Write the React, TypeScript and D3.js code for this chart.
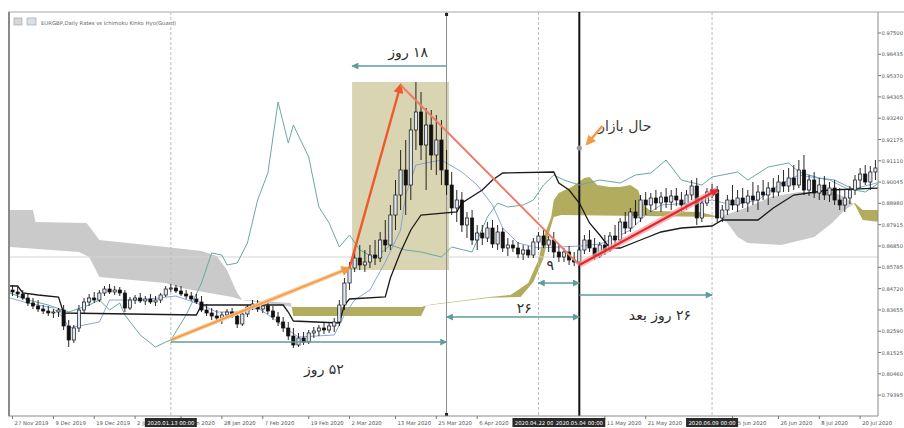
import React from "react";
import * as d3 from "d3";

type P = [number, number];

// EURGBP daily candles: [open, high, low, close]
const candles: [number, number, number, number][] = [
  [.8465,.8490,.8435,.8455],[.8455,.8480,.8425,.8445],[.8445,.8465,.8415,.8425],[.8425,.8450,.8385,.8400],
  [.8400,.8425,.8370,.8385],[.8385,.8415,.8355,.8370],[.8370,.8390,.8345,.8360],[.8360,.8385,.8335,.8350],
  [.8350,.8370,.8325,.8355],[.8355,.8375,.8330,.8365],[.8365,.8390,.8265,.8285],[.8285,.8315,.8180,.8215],
  [.8215,.8290,.8200,.8275],[.8275,.8390,.8255,.8365],[.8365,.8425,.8345,.8405],[.8405,.8445,.8385,.8425],
  [.8425,.8455,.8400,.8415],[.8415,.8465,.8405,.8450],[.8450,.8485,.8435,.8470],[.8470,.8495,.8445,.8455],
  [.8455,.8485,.8440,.8465],[.8465,.8480,.8435,.8450],[.8450,.8465,.8355,.8375],[.8375,.8430,.8365,.8415],
  [.8415,.8440,.8395,.8425],[.8425,.8450,.8400,.8410],[.8410,.8435,.8390,.8420],[.8420,.8445,.8395,.8405],
  [.8405,.8435,.8385,.8415],[.8415,.8450,.8400,.8440],[.8440,.8485,.8430,.8470],[.8470,.8495,.8455,.8475],
  [.8475,.8490,.8450,.8460],[.8460,.8485,.8435,.8445],[.8445,.8465,.8420,.8435],[.8435,.8455,.8410,.8420],
  [.8420,.8445,.8395,.8405],[.8405,.8435,.8355,.8365],[.8365,.8395,.8335,.8350],[.8350,.8375,.8315,.8335],
  [.8335,.8365,.8305,.8325],[.8325,.8355,.8295,.8340],[.8340,.8370,.8325,.8355],[.8355,.8375,.8325,.8335],
  [.8335,.8355,.8275,.8295],[.8295,.8355,.8285,.8345],[.8345,.8390,.8330,.8380],[.8380,.8415,.8365,.8395],
  [.8395,.8415,.8355,.8370],[.8370,.8400,.8350,.8385],[.8385,.8415,.8345,.8360],[.8360,.8385,.8315,.8330],
  [.8330,.8355,.8285,.8305],[.8305,.8330,.8255,.8275],[.8275,.8305,.8215,.8235],[.8235,.8275,.8175,.8190],
  [.8190,.8250,.8180,.8225],[.8225,.8255,.8190,.8205],[.8205,.8265,.8195,.8250],[.8250,.8280,.8225,.8260],
  [.8260,.8290,.8235,.8275],[.8275,.8305,.8245,.8265],[.8265,.8300,.8250,.8285],[.8285,.8325,.8255,.8305],
  [.8305,.8415,.8285,.8390],[.8390,.8525,.8365,.8500],[.8500,.8605,.8465,.8575],[.8575,.8665,.8555,.8625],
  [.8625,.8690,.8565,.8590],[.8590,.8665,.8555,.8605],[.8605,.8690,.8575,.8640],[.8640,.8715,.8590,.8625],
  [.8625,.8755,.8605,.8715],[.8715,.8815,.8655,.8690],[.8690,.8890,.8665,.8840],[.8840,.9015,.8765,.8940],
  [.8940,.9165,.8865,.9065],[.9065,.9215,.8840,.8990],[.8990,.9325,.8915,.9265],[.9265,.9505,.9165,.9355],
  [.9355,.9455,.9115,.9190],[.9190,.9375,.8965,.9290],[.9290,.9365,.9065,.9140],[.9140,.9340,.9040,.9215],
  [.9215,.9315,.8990,.9065],[.9065,.9165,.8940,.8990],[.8990,.9055,.8840,.8875],[.8875,.8965,.8805,.8915],
  [.8915,.8955,.8755,.8790],[.8790,.8855,.8725,.8825],[.8825,.8865,.8690,.8715],[.8715,.8790,.8665,.8750],
  [.8750,.8790,.8690,.8725],[.8725,.8805,.8705,.8775],[.8775,.8815,.8675,.8695],[.8695,.8790,.8665,.8755],
  [.8755,.8775,.8655,.8675],[.8675,.8725,.8635,.8690],[.8690,.8715,.8655,.8675],[.8675,.8705,.8625,.8645],
  [.8645,.8690,.8615,.8665],[.8665,.8685,.8625,.8640],[.8640,.8725,.8625,.8705],[.8705,.8755,.8665,.8735],
  [.8735,.8765,.8675,.8690],[.8690,.8735,.8655,.8715],[.8715,.8755,.8625,.8655],[.8655,.8695,.8605,.8630],
  [.8630,.8675,.8605,.8655],[.8655,.8685,.8590,.8615],[.8615,.8655,.8585,.8605],[.8605,.8675,.8595,.8665],
  [.8665,.8740,.8645,.8715],[.8715,.8765,.8655,.8675],[.8675,.8725,.8615,.8635],[.8635,.8705,.8625,.8690],
  [.8690,.8740,.8640,.8665],[.8665,.8755,.8655,.8735],[.8735,.8790,.8685,.8715],[.8715,.8825,.8695,.8805],
  [.8805,.8855,.8745,.8775],[.8775,.8875,.8755,.8855],[.8855,.8915,.8790,.8825],[.8825,.8940,.8805,.8915],
  [.8915,.8955,.8840,.8890],[.8890,.8950,.8855,.8925],[.8925,.8965,.8865,.8900],[.8900,.8955,.8855,.8930],
  [.8930,.8975,.8875,.8905],[.8905,.8965,.8865,.8935],[.8935,.8975,.8885,.8915],[.8915,.8955,.8855,.8890],
  [.8890,.8965,.8865,.8940],[.8940,.9015,.8915,.8985],[.8985,.9025,.8790,.8825],[.8825,.8925,.8805,.8900],
  [.8900,.8975,.8885,.8955],[.8955,.8995,.8925,.8965],[.8965,.8985,.8805,.8825],[.8825,.8890,.8805,.8865],
  [.8865,.8940,.8840,.8915],[.8915,.8990,.8865,.8890],[.8890,.8965,.8855,.8925],[.8925,.8975,.8875,.8900],
  [.8900,.8965,.8855,.8935],[.8935,.9005,.8890,.8915],[.8915,.8990,.8865,.8955],[.8955,.9015,.8915,.8940],
  [.8940,.9005,.8890,.8975],[.8975,.9025,.8925,.8955],[.8955,.9040,.8935,.9005],[.9005,.9065,.8955,.8985],
  [.8985,.9075,.8955,.9025],[.9025,.9090,.8965,.8990],[.8990,.9115,.8975,.9065],[.9065,.9140,.8940,.8965],
  [.8965,.9040,.8935,.9015],[.9015,.9055,.8925,.8950],[.8950,.9025,.8915,.8990],[.8990,.9035,.8915,.8940],
  [.8940,.9005,.8905,.8975],[.8975,.9015,.8890,.8915],[.8915,.8975,.8865,.8890],[.8890,.8965,.8855,.8925],
  [.8925,.8985,.8895,.8965],[.8965,.9040,.8940,.9015],[.9015,.9075,.8975,.9045],[.9045,.9090,.8990,.9005],
  [.9005,.9085,.8965,.9055],[.9055,.9115,.9015,.9075],
];

// Ichimoku lines: [bar index, price]
const kijun: P[] = [[-0.5,.8485],[1,.8485],[2,.8450],[5,.8440],[9,.8430],[10,.8350],[36,.8340],[37,.8390],[53,.8390],[54,.8355],[55,.8310],[64,.8300],[65,.8390],[66,.8420],[73,.8430],[74,.8525],[76,.8655],[78,.8765],[80,.8840],[87,.8855],[88,.8900],[92,.8965],[94,.9015],[96,.9050],[106,.9055],[107,.9000],[109,.8965],[111,.8900],[113,.8800],[115,.8740],[117,.8675],[119,.8675],[123,.8715],[127,.8755],[131,.8775],[137,.8785],[139,.8815],[146,.8815],[149,.8875],[153,.8940],[160,.8965],[170,.8975]];
const tenkan: P[] = [[-0.5,.8425],[3,.8400],[8,.8375],[10,.8325],[11,.8275],[17,.8305],[19,.8415],[25,.8415],[32,.8435],[37,.8390],[40,.8355],[45,.8355],[48,.8375],[51,.8325],[54,.8265],[56,.8230],[63,.8240],[65,.8340],[67,.8415],[70,.8465],[73,.8605],[76,.8765],[77,.8940],[79,.9090],[84,.9115],[88,.9055],[91,.8990],[94,.8890],[96,.8775],[99,.8700],[103,.8675],[107,.8680],[111,.8685],[115,.8695],[118,.8725],[121,.8765],[124,.8840],[127,.8890],[133,.8900],[137,.8915],[141,.8890],[146,.8915],[150,.8990],[154,.9040],[160,.9015],[164,.8965],[170,.9005]];
const chikou: P[] = [[-0.5,.8450],[3,.8415],[7,.8390],[11,.8355],[15,.8390],[17,.8415],[19,.8365],[21,.8400],[22,.8340],[25,.8240],[28,.8180],[30,.8205],[31,.8215],[34,.8340],[37,.8500],[39,.8650],[41,.8640],[42,.8590],[44,.8600],[46,.8700],[48,.8915],[50,.9050],[52,.9405],[54,.9200],[55,.9290],[58,.9130],[60,.8880],[62,.8800],[64,.8680],[66,.8740],[68,.8665],[71,.8625],[74,.8690],[77,.8665],[80,.8655],[84,.8630],[86,.8680],[90,.8655],[93,.8830],[95,.8900],[97,.8880],[100,.8890],[102,.8915],[104,.8990],[106,.9040],[108,.9015],[111,.8990],[115,.9015],[119,.9000],[122,.9040],[125,.9050],[128,.9115],[131,.9015],[135,.8990],[137,.9030],[142,.9055],[144,.9015],[148,.9080],[152,.9100],[154,.9055],[158,.9025],[161,.9015],[165,.8965],[167,.8955],[170,.9005]];
const senkouA: P[] = [[-0.5,.8680],[13,.8655],[15,.8630],[17,.8530],[30,.8500],[33,.8475],[43,.8430],[45,.8415],[55,.8380],[80,.8380],[82,.8392],[93.5,.8430],[97.5,.8440],[99,.8465],[101,.8500],[103,.8615],[104,.8730],[105.5,.8830],[106,.8915],[107,.8950],[109.5,.8980],[112,.9025],[113,.9030],[114.5,.8990],[117,.8980],[119,.8980],[121,.8990],[122.5,.8965],[123.5,.8890],[125,.8860],[134.5,.8855],[138.5,.8830],[140,.8800],[142,.8730],[144,.8700],[150.5,.8690],[157,.8730],[160.5,.8800],[163,.8865],[165,.8900],[166.5,.8865],[170,.8865]];
const senkouB: P[] = [[-0.5,.8865],[4,.8865],[4.5,.8805],[14.5,.8800],[17,.8715],[30,.8680],[37,.8660],[40,.8635],[42,.8565],[44,.8450],[45,.8415],[54.5,.8400],[55,.8335],[80,.8335],[81,.8388],[93.5,.8426],[99.5,.8430],[102,.8505],[104,.8625],[105,.8745],[106,.8830],[107.5,.8840],[138.5,.8830],[144,.8880],[148.5,.8930],[154,.8955],[160.5,.8955],[163,.8930],[165,.8890],[166.5,.8815],[170,.8805]];

const priceTicks = ["0.97500","0.96435","0.95370","0.94305","0.93240","0.92175","0.91110","0.90045","0.88980","0.87915","0.86850","0.85785","0.84720","0.83655","0.82590","0.81525","0.80460","0.79395"];
const dateTicks: [number, string][] = [[0,"27 Nov 2019"],[8,"9 Dec 2019"],[16,"19 Dec 2019"],[24,"2 Jan 2020"],[33,"15 Jan 2020"],[41,"28 Jan 2020"],[49,"7 Feb 2020"],[58,"19 Feb 2020"],[66,"2 Mar 2020"],[75,"13 Mar 2020"],[83,"25 Mar 2020"],[91,"6 Apr 2020"],[116,"11 May 2020"],[124,"21 May 2020"],[141,"15 Jun 2020"],[150,"26 Jun 2020"],[158,"8 Jul 2020"],[166,"20 Jul 2020"]];

const vlineBars = [31, 85, 103, 111, 137];
const vlineStamps: [number, string][] = [[31,"2020.01.13 00:00"],[103,"2020.04.22 00:00"],[111,"2020.05.04 00:00"],[137,"2020.06.09 00:00"]];
const nowBar = 111;
const midBar = 85;
const levelPrice = 0.8630;
const rallyBars = [66.5, 85.5];
const rallyPrices = [0.9505, 0.8565];

const legAccum: P[] = [[31, 0.8215], [66, 0.8575]];
const legRally: P[] = [[66, 0.8575], [76, 0.9490]];
const legDecline: P[] = [[76, 0.9490], [111, 0.8590]];
const legRecovery: P[] = [[111, 0.8590], [138, 0.8965]];
const nowPointer: P[] = [[115.5, 0.9285], [112.5, 0.9195]];
const nowDot: P = [111, 0.9175];

const spanFrom = [31, 85, 85, 103, 111];
const spanTo = [85, 66.5, 111, 111, 137];
const spanPrice = [0.8205, 0.9585, 0.8330, 0.8500, 0.8440];
const spanLabels = ["۵۲ روز", "۱۸ روز", "۲۶", "۹", "۲۶ روز بعد"];
const spanLabelAt: P[] = [[61, 0.8045], [77.5, 0.9630], [100.2, 0.8350], [105.3, 0.8565], [126.8, 0.8315]];
const nowLabel = "حال بازار";
const nowLabelAt: P = [119.9, 0.9260];

export default function App() {
  const L = 10, R = 878, T = 12, B = 416;
  const x = d3.scaleLinear().domain([-0.5, 169.5]).range([L, R]);
  const y = d3.scaleLinear().domain([0.9855, 0.7835]).range([T, B]);
  const line = d3.line<P>().x(d => x(d[0])).y(d => y(d[1]));
  const below = d3.area<P>().x(d => x(d[0])).y0(B + 30).y1(d => y(d[1]));
  const above = d3.area<P>().x(d => x(d[0])).y0(T - 30).y1(d => y(d[1]));
  const fa = "DejaVu Sans, sans-serif";
  const teal = "#5f9c9c";

  return (
    <svg width={904} height={428} style={{ position: "absolute", left: 0, top: 0, background: "#fff" }}>
      <defs>
        <clipPath id="plot"><rect x={L} y={T} width={R - L} height={B - T} /></clipPath>
        <clipPath id="underB"><path d={above(senkouB) || ""} /></clipPath>
        <clipPath id="underA"><path d={above(senkouA) || ""} /></clipPath>
        <marker id="hOr" viewBox="0 0 10 10" refX="8" refY="5" markerWidth="11" markerHeight="10" markerUnits="userSpaceOnUse" orient="auto">
          <path d="M0,0 L10,5 L0,10 z" fill="#f39a45" />
        </marker>
        <marker id="hRed" viewBox="0 0 10 10" refX="8" refY="5" markerWidth="11" markerHeight="10" markerUnits="userSpaceOnUse" orient="auto">
          <path d="M0,0 L10,5 L0,10 z" fill="#ee5a2a" />
        </marker>
        <marker id="hRd2" viewBox="0 0 10 10" refX="8" refY="5" markerWidth="9" markerHeight="8" markerUnits="userSpaceOnUse" orient="auto">
          <path d="M0,0 L10,5 L0,10 z" fill="#e5262d" />
        </marker>
        <marker id="hTeal" viewBox="0 0 10 10" refX="9" refY="5" markerWidth="8" markerHeight="7" markerUnits="userSpaceOnUse" orient="auto-start-reverse">
          <path d="M0,0 L10,5 L0,10 z" fill={teal} />
        </marker>
      </defs>

      {/* frame */}
      <line x1={8} x2={904} y1={T} y2={T} stroke="#a8a8a8" strokeWidth={1} />
      <line x1={9} x2={9} y1={T} y2={B} stroke="#8a8a8a" strokeWidth={2} />
      <rect x={14} y={18} width={8} height={7} fill="#d8d8d8" stroke="#9a9a9a" strokeWidth={0.6} />
      <rect x={27} y={18} width={9} height={7} fill="#d8e0ea" stroke="#9a9a9a" strokeWidth={0.6} />
      <text x={41} y={24.5} fontSize={5.3} fill="#666" fontFamily="DejaVu Sans, sans-serif">EURGBP,Daily  Rates vs Ichimoku Kinko Hyo(Guard)</text>

      <g clipPath="url(#plot)">
        {/* rally box */}
        <rect x={x(rallyBars[0])} y={y(rallyPrices[0])} width={x(rallyBars[1]) - x(rallyBars[0])}
          height={y(rallyPrices[1]) - y(rallyPrices[0])} fill="#d9d4b1" />
        {/* kumo */}
        <path d={below(senkouA) || ""} clipPath="url(#underB)" fill="#b2ac5e" />
        <path d={below(senkouB) || ""} clipPath="url(#underA)" fill="#cacaca" />
        {/* level and vertical lines */}
        <line x1={L} x2={R} y1={y(levelPrice)} y2={y(levelPrice)} stroke="#d4d4d4" strokeWidth={1} />
        {vlineBars.map(b => (
          <line key={b} x1={x(b)} x2={x(b)} y1={T} y2={B}
            stroke={b === nowBar ? "#111" : b === midBar ? "#8c8c8c" : "#bcbcbc"}
            strokeWidth={b === nowBar ? 2 : 1}
            strokeDasharray={b === nowBar || b === midBar ? undefined : "3,2"} />
        ))}
        {/* ichimoku lines */}
        <path d={line(chikou) || ""} fill="none" stroke="#6aa8a3" strokeWidth={1} />
        <path d={line(tenkan) || ""} fill="none" stroke="#7f9bd6" strokeWidth={0.9} />
        <path d={line(kijun) || ""} fill="none" stroke="#1a1a1a" strokeWidth={1.3} />
        {/* candles */}
        {candles.map((c, i) => {
          const [o, h, l, cl] = c;
          const bull = cl >= o;
          const top = y(Math.max(o, cl));
          const hgt = Math.max(1, y(Math.min(o, cl)) - top);
          return (
            <g key={i}>
              <line x1={x(i)} x2={x(i)} y1={y(h)} y2={y(l)} stroke="#111" strokeWidth={0.9} />
              <rect x={x(i) - 1.6} y={top} width={3.2} height={hgt}
                fill={bull ? "#dfe7f5" : "#111"} stroke="#111" strokeWidth={0.7} />
            </g>
          );
        })}
        {/* trend legs */}
        <path d={line(legAccum) || ""} stroke="#f8c48e" strokeWidth={4} fill="none" opacity={0.95} />
        <path d={line(legAccum) || ""} stroke="#f39a45" strokeWidth={1.6} fill="none" markerEnd="url(#hOr)" />
        <path d={line(legRally) || ""} stroke="#ee5a2a" strokeWidth={2.4} fill="none" markerEnd="url(#hRed)" />
        <path d={line(legDecline) || ""} stroke="#f07a68" strokeWidth={2} fill="none" />
        <path d={line(legRecovery) || ""} stroke="#f4a3a3" strokeWidth={6} fill="none" opacity={0.7} />
        <path d={line(legRecovery) || ""} stroke="#e5262d" strokeWidth={2.2} fill="none" markerEnd="url(#hRd2)" />
        <path d={line(nowPointer) || ""} stroke="#f39a45" strokeWidth={2.5} fill="none" markerEnd="url(#hOr)" />
        <circle cx={x(nowDot[0])} cy={y(nowDot[1])} r={2.6} fill="#9a9a9a" />
        {/* spans */}
        {spanFrom.map((f, k) => (
          <line key={k} x1={x(f)} x2={x(spanTo[k])} y1={y(spanPrice[k])} y2={y(spanPrice[k])}
            stroke={teal} strokeWidth={1.6}
            markerEnd="url(#hTeal)" markerStart={k === 2 || k === 3 ? "url(#hTeal)" : undefined} />
        ))}
        {spanLabels.map((s, k) => (
          <text key={k} x={x(spanLabelAt[k][0])} y={y(spanLabelAt[k][1])} fontSize={14} fill="#2e2e2e"
            fontFamily={fa} textAnchor="middle" direction="rtl" style={{ direction: "rtl", unicodeBidi: "embed" }}>{s}</text>
        ))}
        <text x={x(nowLabelAt[0])} y={y(nowLabelAt[1])} fontSize={14} fill="#3a3a3a" fontFamily={fa}
          textAnchor="middle" direction="rtl" style={{ direction: "rtl", unicodeBidi: "embed" }}>{nowLabel}</text>
      </g>
      {/* mid line anchors */}
      <rect x={x(midBar) - 1.5} y={T + 1} width={3} height={3} fill="#222" />
      <rect x={x(midBar) - 1.5} y={B - 3} width={3} height={3} fill="#222" />

      {/* axes */}
      <line x1={R} x2={R} y1={T} y2={B} stroke="#8a8a8a" strokeWidth={1} />
      <line x1={8} x2={R} y1={B} y2={B} stroke="#8a8a8a" strokeWidth={1} />
      {priceTicks.map(t => {
        const v = parseFloat(t);
        return (
          <g key={t}>
            <line x1={R} x2={R + 3} y1={y(v)} y2={y(v)} stroke="#777" />
            <text x={R + 3.5} y={y(v) + 2} fontSize={5.2} fill="#555" fontFamily="DejaVu Sans, sans-serif">{t}</text>
          </g>
        );
      })}
      {dateTicks.map(([b, s]) => (
        <g key={b}>
          <line x1={x(b)} x2={x(b)} y1={B} y2={B + 3} stroke="#777" />
          <text x={x(b) + 2} y={B + 8.5} fontSize={5.3} fill="#555" fontFamily="DejaVu Sans, sans-serif">{s}</text>
        </g>
      ))}
      {vlineStamps.map(([b, s]) => (
        <g key={b}>
          <rect x={x(b) - 26} y={B + 2} width={52} height={9} fill="#2a2a2a" />
          <text x={x(b)} y={B + 8.5} fontSize={5.3} fill="#fff" textAnchor="middle" fontFamily="DejaVu Sans, sans-serif">{s}</text>
        </g>
      ))}
    </svg>
  );
}
